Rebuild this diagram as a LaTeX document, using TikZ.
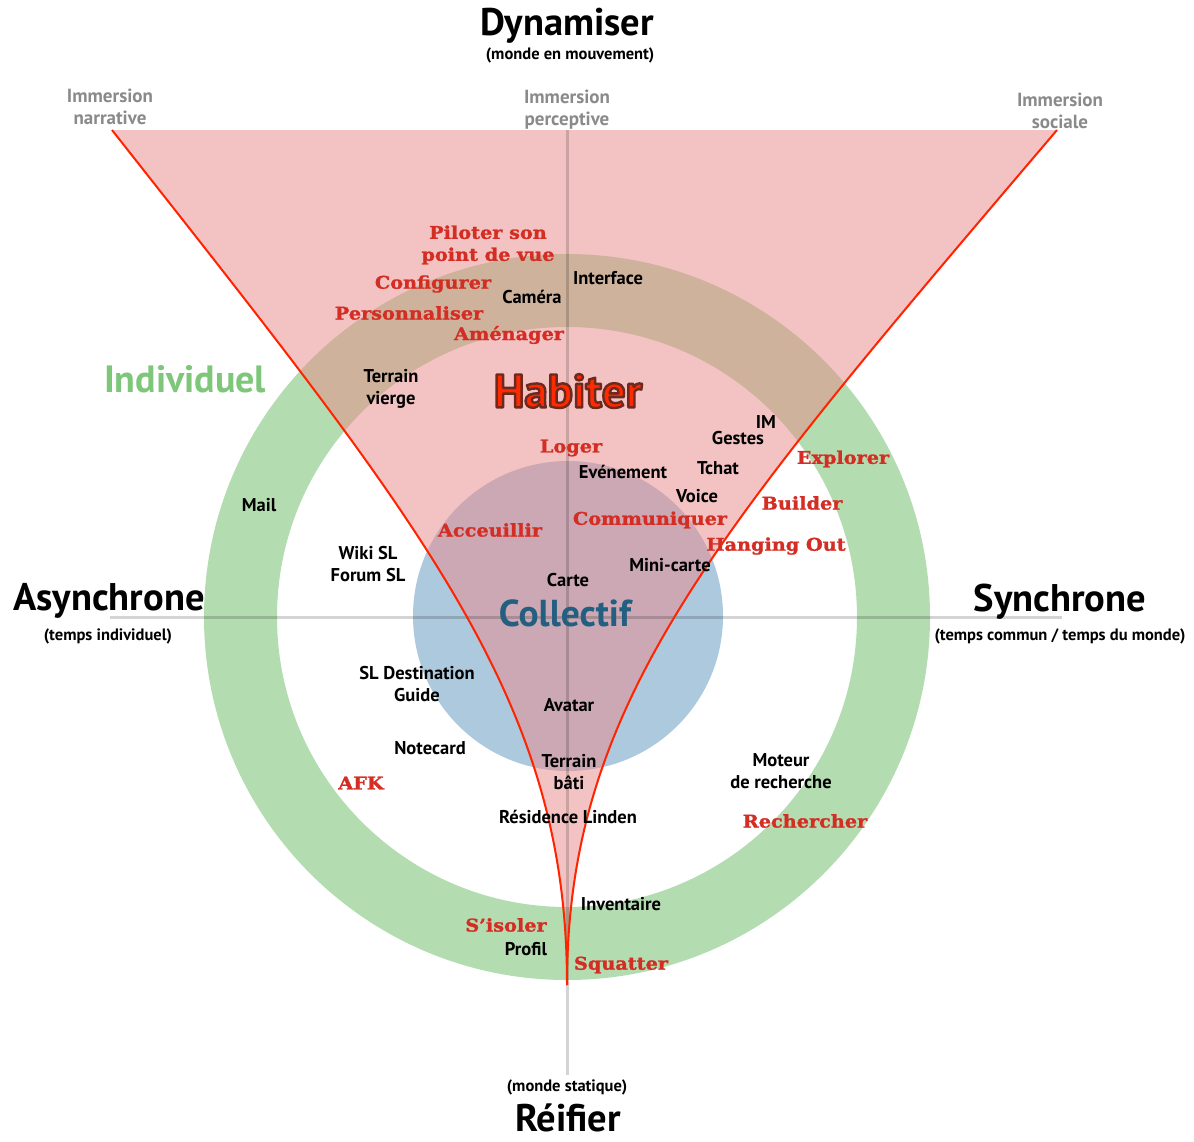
\documentclass[tikz,border=0pt]{standalone}
\usepackage{fontspec}
\setmainfont{PT Sans}
\newfontfamily\slab{DejaVu Serif}[FakeStretch=1.1,BoldFeatures={FakeBold=1.4}]
\newcommand\outlinedword[1]{\special{pdf:literal direct 2 Tr 2.4 w 1 j 0.43 0.16 0.12 RG}#1\special{pdf:literal direct 0 Tr}}
\definecolor{ringgreen}{RGB}{179,220,176}
\definecolor{collblue}{RGB}{173,201,222}
\definecolor{funnelC}{RGB}{233,137,137}
\definecolor{actred}{RGB}{212,45,35}
\definecolor{habred}{RGB}{255,42,0}
\definecolor{immgray}{RGB}{138,138,138}
\definecolor{indgreen}{RGB}{125,198,122}
\definecolor{colltext}{RGB}{35,95,128}
\definecolor{linered}{RGB}{255,35,0}
\begin{document}
\begin{tikzpicture}[x=1pt,y=-1pt,
  every node/.style={inner sep=0pt,align=center},
  lbl/.style={font=\fontsize{18.5}{21.5}\selectfont\bfseries,text=black},
  act/.style={font=\fontsize{17.5}{22}\selectfont\slab\bfseries,text=actred},
  imm/.style={font=\fontsize{19}{22}\selectfont\bfseries,text=immgray},
  bigt/.style={font=\fontsize{38.5}{42}\selectfont\bfseries,text=black},
  subt/.style={font=\fontsize{16.5}{19}\selectfont\bfseries,text=black},
  habf/.style={font=\fontsize{47}{50}\selectfont\bfseries},
  axisline/.style={line width=3pt,draw=black,draw opacity=0.17},
  redline/.style={line width=2pt,draw=linered}]
\useasboundingbox (0,0) rectangle (1194,1141);
\fill[white] (0,0) rectangle (1194,1141);
\coordinate (O) at (567,617);
\coordinate (tl) at (112,130);
\coordinate (tr) at (1057,130);
\coordinate (tip) at (567,985);
% ring and collective circle
\fill[ringgreen,even odd rule] (O) circle[radius=363pt] (O) circle[radius=290pt];
\fill[collblue] (568,616) circle[radius=155pt];
% funnel
\fill[funnelC,fill opacity=0.5] (tl) -- (tr) .. controls (717,530) and (567,700) .. (tip)
   .. controls (567,700) and (427,530) .. (tl) -- cycle;
% axes
\coordinate (vtop) at (567,130);
\coordinate (vbot) at (567,1075);
\coordinate (hl) at (110,617);
\coordinate (hr) at (1062,617);
\draw[axisline] (vtop) -- (vbot);
\draw[axisline] (hl) -- (hr);
% funnel borders
\draw[redline] (tl) .. controls (427,530) and (567,700) .. (tip);
\draw[redline] (tr) .. controls (717,530) and (567,700) .. (tip);
% titles
\node[bigt] (dyn) at (567,26) {Dynamiser};
\node[subt] (dynsub) at (570,55) {(monde en mouvement)};
\node[bigt] (async) at (109,601) {Asynchrone};
\node[subt] (asyncsub) at (108,636) {(temps individuel)};
\node[bigt] (sync) at (1060,602) {Synchrone};
\node[subt] (syncsub) at (1060,636) {(temps commun / temps du monde)};
\node[subt] (reisub) at (567,1087) {(monde statique)};
\node[bigt] (rei) at (568,1118) {Réifier};
\node[imm] (immn) at (110,107) {Immersion\\narrative};
\node[imm] (immp) at (567,110) {Immersion\\perceptive};
\node[imm] (imms) at (1060,111) {Immersion\\sociale};
\node[font=\fontsize{38}{40}\selectfont\bfseries,text=indgreen] (ind) at (185,379) {Individuel};
\node[font=\fontsize{37.5}{40}\selectfont\bfseries,text=colltext] (coll) at (565,613) {Collectif};
\node[habf,text=habred] (hab) at (568,391) {\outlinedword{Habiter}};
% actions (red)
\node[act] (pil) at (488,245) {Piloter son\\point de vue};
\node[act] (conf) at (433,284) {Configurer};
\node[act] (pers) at (409,313) {Personnaliser};
\node[act] (amen) at (509,335) {Aménager};
\node[act] (log) at (571,448) {Loger};
\node[act] (acc) at (490,530) {Acceuillir};
\node[act] (comm) at (650,520) {Communiquer};
\node[act] (expl) at (843,459) {Explorer};
\node[act] (build) at (802,503) {Builder};
\node[act] (hang) at (776,546) {Hanging Out};
\node[act] (afk) at (361,783) {AFK};
\node[act] (rech) at (805,821) {Rechercher};
\node[act] (isol) at (506,925) {S’isoler};
\node[act] (squat) at (621,965) {Squatter};
% objects (black)
\node[lbl] (inter) at (608,278) {Interface};
\node[lbl] (cam) at (532,297) {Caméra};
\node[lbl] (tv) at (391,389) {Terrain\\vierge};
\node[lbl] (im) at (766,422) {IM};
\node[lbl] (gest) at (738,438) {Gestes};
\node[lbl] (tchat) at (718,468) {Tchat};
\node[lbl] (voice) at (697,496) {Voice};
\node[lbl] (even) at (623,472) {Evénement};
\node[lbl] (mail) at (259,505) {Mail};
\node[lbl] (wiki) at (368,564) {Wiki SL\\Forum SL};
\node[lbl] (carte) at (568,580) {Carte};
\node[lbl] (mini) at (670,565) {Mini-carte};
\node[lbl] (sld) at (417,684) {SL Destination\\Guide};
\node[lbl] (avat) at (569,705) {Avatar};
\node[lbl] (note) at (430,748) {Notecard};
\node[lbl] (tb) at (569,772) {Terrain\\bâti};
\node[lbl] (mot) at (781,771) {Moteur\\de recherche};
\node[lbl] (res) at (568,817) {Résidence Linden};
\node[lbl] (inv) at (621,904) {Inventaire};
\node[lbl] (prof) at (526,949) {Profil};
\end{tikzpicture}
\end{document}
